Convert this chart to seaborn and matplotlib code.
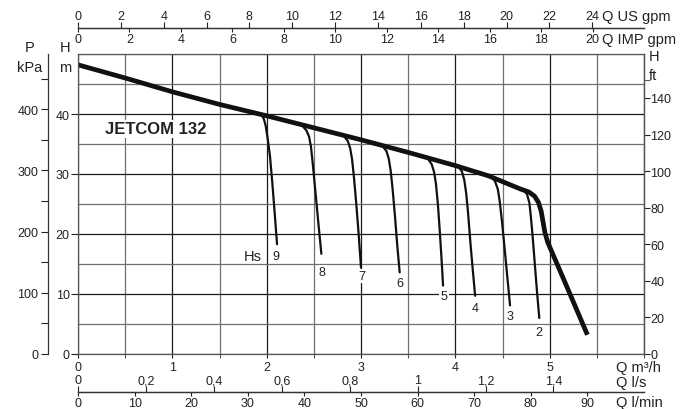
import matplotlib
matplotlib.use("Agg")
import matplotlib.pyplot as plt
import seaborn as sns
import pandas as pd

# pump curve JETCOM 132, flow Q in m3/h, head H in m
main_q = [0.0, 0.5, 1.0, 1.5, 2.0, 2.5, 3.0, 3.5, 4.0, 4.35, 4.69, 4.78, 4.84, 4.88, 4.91,
          4.93, 4.95, 4.98, 5.01, 5.15, 5.40]
main_h = [48.2, 46.0, 43.7, 41.6, 39.7, 37.7, 35.7, 33.6, 31.4, 29.7, 27.5, 27.0, 26.3, 25.3,
          23.8, 22.0, 20.2, 18.6, 17.5, 12.4, 3.2]

# suction lift (Hs) curves
hs_levels = [9, 8, 7, 6, 5, 4, 3, 2]
hs_q = [
    [1.95, 1.97, 1.99, 2.01, 2.035, 2.06, 2.085, 2.11],
    [2.39, 2.42, 2.45, 2.47, 2.49, 2.52, 2.55, 2.58],
    [2.83, 2.86, 2.885, 2.905, 2.925, 2.95, 2.975, 3.00],
    [3.24, 3.27, 3.295, 3.315, 3.335, 3.36, 3.385, 3.41],
    [3.72, 3.75, 3.775, 3.795, 3.815, 3.835, 3.855, 3.87],
    [4.04, 4.07, 4.095, 4.115, 4.135, 4.16, 4.185, 4.21],
    [4.39, 4.42, 4.45, 4.47, 4.495, 4.52, 4.55, 4.58],
    [4.73, 4.76, 4.785, 4.80, 4.82, 4.84, 4.865, 4.89],
]
hs_h = [
    [39.7, 39.2, 38.0, 36.0, 33.0, 28.5, 23.5, 18.3],
    [37.8, 37.3, 36.2, 34.5, 31.5, 26.5, 21.5, 16.7],
    [36.1, 35.5, 34.3, 32.5, 29.5, 25.0, 20.0, 14.4],
    [34.4, 33.8, 32.5, 30.5, 27.5, 23.0, 18.0, 13.6],
    [32.3, 31.6, 30.3, 28.3, 25.0, 20.5, 15.5, 11.4],
    [31.1, 30.4, 29.0, 26.8, 23.5, 18.5, 14.0, 9.7],
    [29.4, 28.8, 27.5, 25.5, 22.0, 18.0, 13.0, 8.1],
    [27.2, 26.6, 25.2, 23.0, 19.5, 15.5, 10.5, 6.0],
]
hs_label_q = [2.10, 2.59, 3.01, 3.41, 3.88, 4.21, 4.58, 4.89]
hs_label_h = [16.4, 13.6, 13.05, 11.8, 9.7, 7.7, 6.4, 3.7]

# axis ticks
m3h_ticks = [0, 1, 2, 3, 4, 5]
m_ticks = [0, 10, 20, 30, 40]
kpa_ticks = [0, 100, 200, 300, 400]
kpa_minor = [50, 150, 250, 350, 450]
ft_ticks = [0, 20, 40, 60, 80, 100, 120, 140]
us_ticks = [0, 2, 4, 6, 8, 10, 12, 14, 16, 18, 20, 22, 24]
imp_ticks = [0, 2, 4, 6, 8, 10, 12, 14, 16, 18, 20]
ls_ticks = [0, 0.2, 0.4, 0.6, 0.8, 1.0, 1.2, 1.4]
ls_labels = ["0", "0,2", "0,4", "0,6", "0,8", "1", "1,2", "1,4"]
lmin_ticks = [0, 10, 20, 30, 40, 50, 60, 70, 80, 90]

sns.set_theme(style="white")
plt.rcParams["font.family"] = ["Liberation Sans", "DejaVu Sans"]

TXT = "#222222"
W, Hpx = 690, 410


def m3h_to_us(x):
    return x * 4.40287


def us_to_m3h(x):
    return x / 4.40287


def m3h_to_imp(x):
    return x * 3.66615


def imp_to_m3h(x):
    return x / 3.66615


def m3h_to_ls(x):
    return x / 3.6


def ls_to_m3h(x):
    return x * 3.6


def m3h_to_lmin(x):
    return x * 1000 / 60


def lmin_to_m3h(x):
    return x * 60 / 1000


def m_to_kpa(x):
    return x * 9.80665


def kpa_to_m(x):
    return x / 9.80665


def m_to_ft(x):
    return x / 0.3048


def ft_to_m(x):
    return x * 0.3048


fig = plt.figure(figsize=(6.9, 4.1), dpi=100)
ax = fig.add_axes([78 / W, 1 - 355 / Hpx, 566 / W, 300 / Hpx])

# grid
ax.set_xlim(0, 6)
ax.set_ylim(0, 50)
ax.set_xticks(m3h_ticks)
ax.set_xticks([i * 0.5 for i in range(13)], minor=True)
ax.set_yticks(m_ticks)
ax.set_yticks([i * 5 for i in range(11)], minor=True)
ax.grid(which="minor", color="#707070", lw=0.9)
ax.grid(which="major", color="#1a1a1a", lw=0.9)
ax.set_axisbelow(True)
for s in ax.spines.values():
    s.set_color("#555555")
    s.set_linewidth(0.9)

ax.tick_params(axis="x", which="major", bottom=True, length=3, width=0.8, pad=2,
               labelsize=9, colors=TXT)
ax.tick_params(axis="x", which="minor", bottom=True, length=3, width=0.8, color="#555555")
ax.tick_params(axis="y", which="major", left=True, length=5, width=0.8, pad=1,
               labelsize=9, colors=TXT)
ax.tick_params(axis="y", which="minor", length=0)

# Hs curves
hs_rows = []
for lev, qs, hs in zip(hs_levels, hs_q, hs_h):
    for q, h in zip(qs, hs):
        hs_rows.append({"Q": q, "H": h, "Hs": lev})
hs_df = pd.DataFrame(hs_rows)
sns.lineplot(data=hs_df, x="Q", y="H", units="Hs", estimator=None, sort=False,
             color="#111111", lw=1.6, ax=ax)

# main curve
sns.lineplot(x=main_q, y=main_h, sort=False, color="#111111", lw=3.4, ax=ax,
             solid_capstyle="butt", solid_joinstyle="round")
ax.set_xlabel("")
ax.set_ylabel("")

for lev, q, h in zip(hs_levels, hs_label_q, hs_label_h):
    ax.text(q, h, str(lev), fontsize=9, color=TXT, ha="center", va="center",
            bbox=dict(facecolor="white", edgecolor="none", pad=0.8))
ax.text(1.85, 16.3, "Hs", fontsize=10.5, color=TXT, ha="center", va="center")
ax.text(0.29, 37.5, "JETCOM 132", fontsize=12, fontweight="bold", color=TXT,
        ha="left", va="center", bbox=dict(facecolor="white", edgecolor="none", pad=1))

# top flow axes
top_loc = (355 - 29) / 300
sec_us = ax.secondary_xaxis(top_loc, functions=(m3h_to_us, us_to_m3h))
sec_us.set_xticks(us_ticks)
sec_us.tick_params(length=4, width=0.8, pad=0.5, labelsize=9, colors=TXT)
sec_imp = ax.secondary_xaxis(top_loc, functions=(m3h_to_imp, imp_to_m3h))
sec_imp.set_alignment("bottom")
sec_imp.set_xticks(imp_ticks)
sec_imp.tick_params(length=3, width=0.8, pad=0.5, labelsize=9, colors=TXT)

# bottom flow axes
bot_loc = -(393 - 355) / 300
sec_ls = ax.secondary_xaxis(bot_loc, functions=(m3h_to_ls, ls_to_m3h))
sec_ls.set_alignment("top")
sec_ls.set_xticks(ls_ticks, labels=ls_labels)
sec_ls.tick_params(length=4, width=0.8, pad=0, labelsize=9, colors=TXT)
sec_lmin = ax.secondary_xaxis(bot_loc, functions=(m3h_to_lmin, lmin_to_m3h))
sec_lmin.set_xticks(lmin_ticks)
sec_lmin.tick_params(length=3, width=0.8, pad=0.5, labelsize=9, colors=TXT)
for sa in (sec_us, sec_imp, sec_ls, sec_lmin):
    for s in sa.spines.values():
        s.set_color("#333333")
        s.set_linewidth(0.9)

# pressure axis (kPa)
sec_kpa = ax.secondary_yaxis(-(78 - 47.5) / 566, functions=(m_to_kpa, kpa_to_m))
sec_kpa.set_yticks(kpa_ticks)
sec_kpa.set_yticks(kpa_minor, minor=True)
sec_kpa.tick_params(which="major", length=5, width=0.8, pad=1.5, labelsize=9, colors=TXT)
sec_kpa.tick_params(which="minor", length=5, width=0.8, color=TXT)
sec_kpa.spines["left"].set_color("#333333")
sec_kpa.spines["left"].set_linewidth(0.9)

# head axis (ft)
sec_ft = ax.secondary_yaxis("right", functions=(m_to_ft, ft_to_m))
sec_ft.set_yticks(ft_ticks)
sec_ft.set_yticks([150], minor=True)
sec_ft.tick_params(which="major", length=4, width=0.8, pad=0.5, labelsize=9, colors=TXT)
sec_ft.tick_params(which="minor", length=4, width=0.8, color="#555555")
sec_ft.spines["right"].set_color("#555555")
sec_ft.spines["right"].set_linewidth(0.9)


def ftext(x, y, s, **kw):
    fig.text(x / W, 1 - y / Hpx, s, fontsize=10.5, color=TXT, va="center", **kw)


ftext(30, 48, "P", ha="center")
ftext(30, 68, "kPa", ha="center")
ftext(65, 48, "H", ha="center")
ftext(65, 68, "m", ha="center")
ftext(649, 57, "H", ha="left")
ftext(649, 76, "ft", ha="left")
ftext(602, 17, "Q US gpm", ha="left")
ftext(602, 40, "Q IMP gpm", ha="left")
ftext(616, 368, "Q m³/h", ha="left")
ftext(616, 383, "Q l/s", ha="left")
ftext(616, 403, "Q l/min", ha="left")

fig.savefig("out.png", dpi=100)
